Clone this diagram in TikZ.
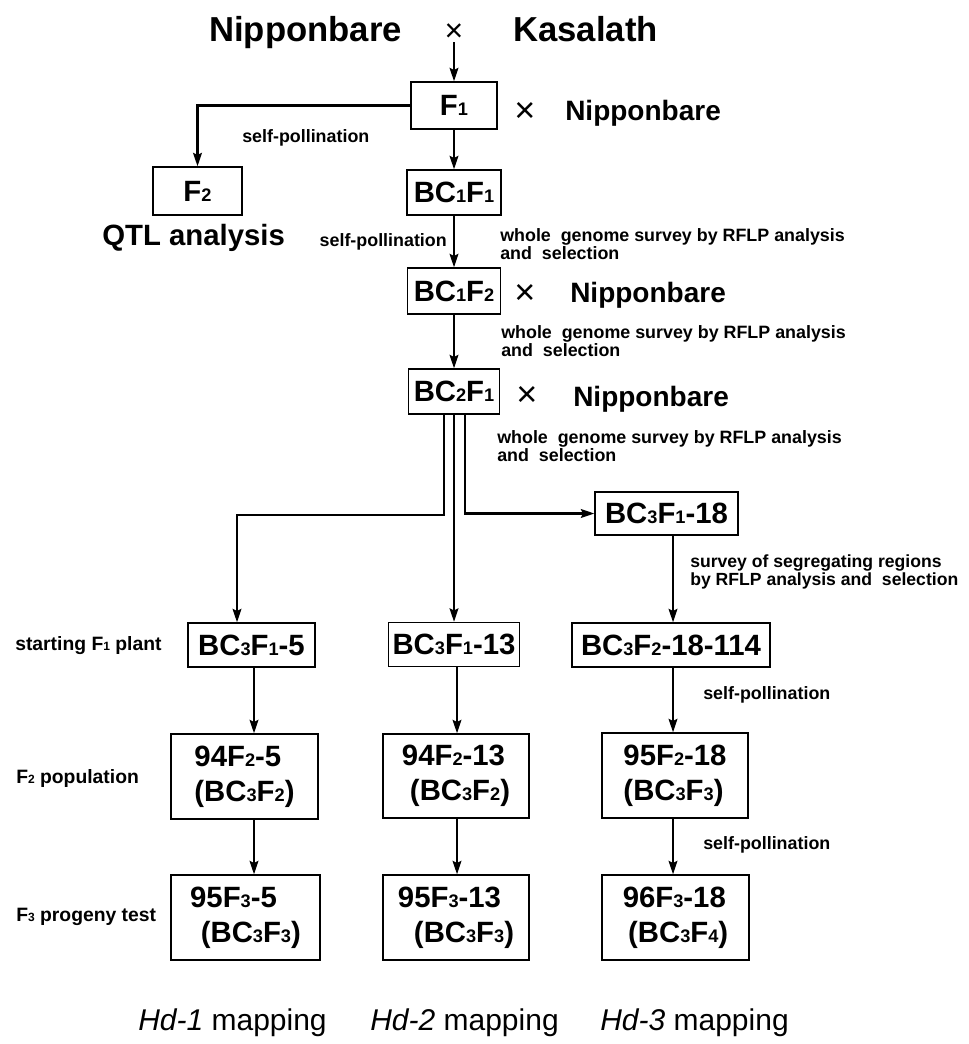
\documentclass[tikz,border=0pt]{standalone}
\usepackage{fontspec}
\setmainfont{Liberation Sans}
\usepackage{graphicx}
\usetikzlibrary{arrows.meta,calc}
\newcommand\lo[1]{\scalebox{0.62}{#1}}
\newcommand\fntTitle{\fontsize{26}{30}\selectfont\bfseries}
\newcommand\fntBig{\fontsize{22}{26}\selectfont\bfseries}
\newcommand\fntNip{\fontsize{21}{24}\selectfont\bfseries}
\newcommand\fntCross{\fontsize{24}{24}\selectfont}
\newcommand\fntCrossB{\fontsize{27}{27}\selectfont}
\newcommand\fntSmall{\fontsize{13.4}{13.5}\selectfont\bfseries}
\newcommand\fntSurv{\fontsize{13.2}{12}\selectfont\bfseries}
\newcommand\fntLeft{\fontsize{14.5}{16}\selectfont\bfseries}
\newcommand\fntBottom{\fontsize{22.5}{26}\selectfont}
\begin{document}
\begin{tikzpicture}[x=0.75pt,y=-0.75pt,
  bx/.style 2 args={draw, line width=1pt, minimum width=#1*0.75pt, minimum height=#2*0.75pt, inner sep=0pt, font=\fntBig, align=left},
  txt/.style={inner sep=0pt},
  arr/.style={line width=1.7pt, -{Stealth[length=10pt,width=6.5pt,inset=1.5pt]}}]
\useasboundingbox (0,0) rectangle (969,1044);
\coordinate (c1) at (254,0);
\coordinate (c2) at (457,0);
\coordinate (c3) at (673,0);
% title
\node[txt, font=\fntTitle, anchor=base west] (nip) at (209,42) {Nipponbare};
\node[txt, font=\fntCross] (cr0) at (454,33) {×};
\node[txt, font=\fntTitle, anchor=base west] (kas) at (513,42) {Kasalath};
% main column
\node[bx={86}{47}] (f1) at (454,105.5) {F\lo{1}};
\node[bx={94}{45}] (bc11) at (454,192.5) {BC\lo{1}F\lo{1}};
\node[bx={93}{46}] (bc12) at (454,291) {BC\lo{1}F\lo{2}};
\node[bx={91}{45}] (bc2) at (454,391.5) {BC\lo{2}F\lo{1}};
\node[bx={89}{48}] (f2) at (197.5,191) {F\lo{2}};
% crosses
\node[txt, font=\fntCrossB] (cr1) at (525,112) {×};
\node[txt, font=\fntNip, anchor=base west] (np1) at (565,121) {Nipponbare};
\node[txt, font=\fntCrossB] (cr2) at (525,294) {×};
\node[txt, font=\fntNip, anchor=base west] (np2) at (570,303) {Nipponbare};
\node[txt, font=\fntCrossB] (cr3) at (527,396) {×};
\node[txt, font=\fntNip, anchor=base west] (np3) at (573,406) {Nipponbare};
% labels
\node[txt, font=\fntBig, anchor=base west] (qtl) at (102,246) {QTL analysis};
\node[txt, font=\fntSmall, anchor=west] (sp1) at (242,138) {self-pollination};
\node[txt, font=\fntSmall, anchor=east] (sp2) at (447,242) {self-pollination};
\node[txt, font=\fntSmall, anchor=west, align=left] (wg1) at (500,244) {whole\ \ genome survey by RFLP analysis\\and\ \ selection};
\node[txt, font=\fntSmall, anchor=west, align=left] (wg2) at (501,341) {whole\ \ genome survey by RFLP analysis\\and\ \ selection};
\node[txt, font=\fntSmall, anchor=west, align=left] (wg3) at (497,446) {whole\ \ genome survey by RFLP analysis\\and\ \ selection};
% BC3 generation
\node[bx={143}{43}] (b18) at (666.5,513.5) {BC\lo{3}F\lo{1}-18};
\node[txt, font=\fntSurv, anchor=west, align=left] (surv) at (690,572) {survey of segregating regions\\by RFLP analysis and\ \ selection};
\node[bx={127}{44}] (b5) at (251.5,645) {BC\lo{3}F\lo{1}-5};
\node[bx={131}{44}] (b13) at (454,644.5) {BC\lo{3}F\lo{1}-13};
\node[bx={198}{44}] (b114) at (671,645) {BC\lo{3}F\lo{2}-18-114};
\node[txt, font=\fntLeft, anchor=west] (lst) at (15,646) {starting F\lo{1} plant};
% row 2
\node[bx={147}{85}] (p5) at (244.5,776.5) {94F\lo{2}-5\\(BC\lo{3}F\lo{2})};
\node[bx={146}{84}] (p13) at (456,776) {94F\lo{2}-13\\\hspace*{6pt}(BC\lo{3}F\lo{2})};
\node[bx={146}{85}] (p18) at (675,775.5) {95F\lo{2}-18\\(BC\lo{3}F\lo{3})};
\node[txt, font=\fntLeft, anchor=west] (lpop) at (16,778) {F\lo{2} population};
\node[txt, font=\fntSmall, anchor=west] (sp3) at (703,695) {self-pollination};
% row 3
\node[bx={149}{85}] (q5) at (245.5,917.5) {95F\lo{3}-5\\\hspace*{8pt}(BC\lo{3}F\lo{3})};
\node[bx={146}{85}] (q13) at (456,917.5) {95F\lo{3}-13\\\hspace*{12pt}(BC\lo{3}F\lo{3})};
\node[bx={147}{85}] (q18) at (675.5,917.5) {96F\lo{3}-18\\\hspace*{4pt}(BC\lo{3}F\lo{4})};
\node[txt, font=\fntLeft, anchor=west] (lprog) at (16,917) {F\lo{3} progeny test};
\node[txt, font=\fntSmall, anchor=west] (sp4) at (703,845) {self-pollination};
% bottom
\node[txt, font=\fntBottom, anchor=west] (m1) at (138,1023) {\itshape Hd-1\upshape\ mapping};
\node[txt, font=\fntBottom, anchor=west] (m2) at (370,1023) {\itshape Hd-2\upshape\ mapping};
\node[txt, font=\fntBottom, anchor=west] (m3) at (600,1023) {\itshape Hd-3\upshape\ mapping};
% connectors
\draw[arr] (cr0.south) -- (f1.north);
\draw[arr] (f1.west) -| (f2.north);
\draw[arr] (f1.south) -- (bc11.north);
\draw[arr] (bc11.south) -- (bc12.north);
\draw[arr] (bc12.south) -- (bc2.north);
\coordinate (jl) at (237,515);
\draw[arr] ($(bc2.south)+(-10,0)$) |- (jl) -- (jl |- b5.north);
\draw[arr] (bc2.south) -- (b13.north);
\draw[arr] ($(bc2.south)+(11,0)$) |- (b18.west);
\draw[arr] (b18.south -| c3) -- (b114.north -| c3);
\draw[arr] (b5.south -| c1) -- (p5.north -| c1);
\draw[arr] (p5.south -| c1) -- (q5.north -| c1);
\draw[arr] (b13.south -| c2) -- (p13.north -| c2);
\draw[arr] (p13.south -| c2) -- (q13.north -| c2);
\draw[arr] (b114.south -| c3) -- (p18.north -| c3);
\draw[arr] (p18.south -| c3) -- (q18.north -| c3);
\end{tikzpicture}
\end{document}
